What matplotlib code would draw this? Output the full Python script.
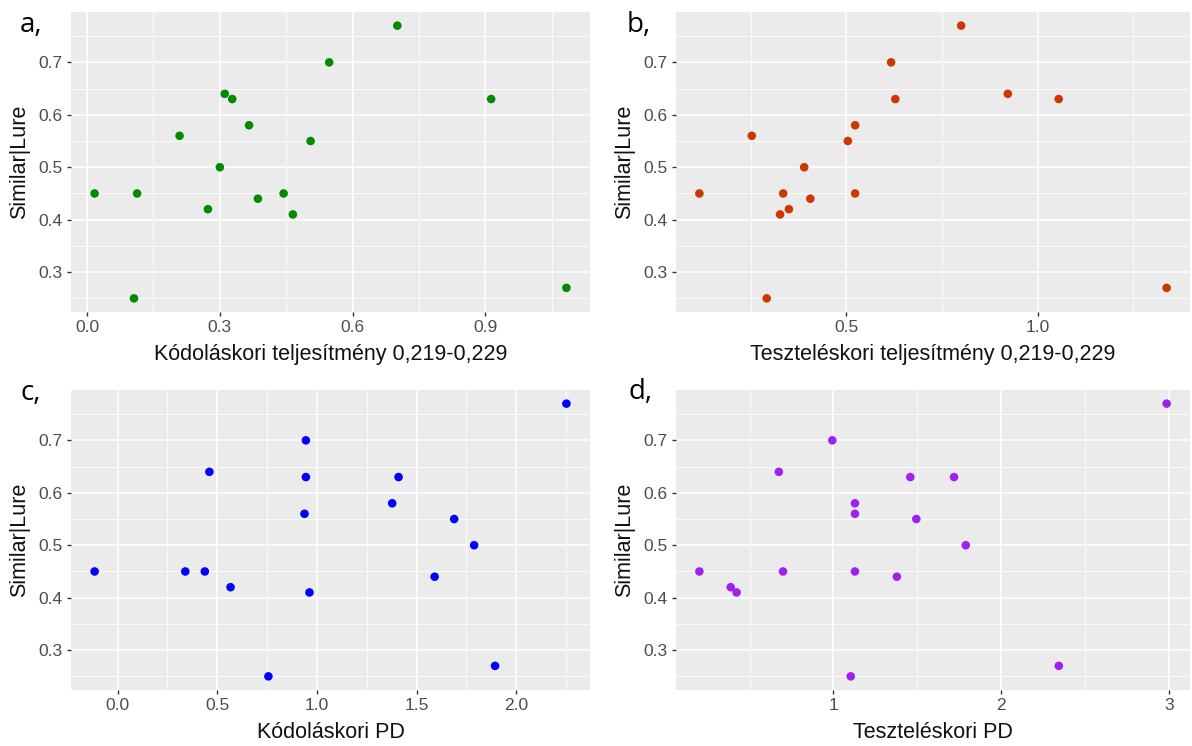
import matplotlib
matplotlib.use("Agg")
import matplotlib.pyplot as plt
import numpy as np

# ---- data ----
a_x = [0.017, 0.113, 0.106, 0.209, 0.273, 0.300, 0.311, 0.328, 0.366, 0.386, 0.444, 0.465, 0.505, 0.547, 0.701, 0.913, 1.083]
a_y = [0.45, 0.45, 0.25, 0.56, 0.42, 0.50, 0.64, 0.63, 0.58, 0.44, 0.45, 0.41, 0.55, 0.70, 0.77, 0.63, 0.27]

b_x = [0.116, 0.253, 0.292, 0.327, 0.335, 0.350, 0.390, 0.406, 0.504, 0.523, 0.523, 0.617, 0.628, 0.800, 0.922, 1.055, 1.337]
b_y = [0.45, 0.56, 0.25, 0.41, 0.45, 0.42, 0.50, 0.44, 0.55, 0.58, 0.45, 0.70, 0.63, 0.77, 0.64, 0.63, 0.27]

c_x = [-0.115, 0.340, 0.438, 0.461, 0.567, 0.757, 0.938, 0.945, 0.945, 0.963, 1.378, 1.410, 1.591, 1.689, 1.789, 1.894, 2.252]
c_y = [0.45, 0.45, 0.45, 0.64, 0.42, 0.25, 0.56, 0.70, 0.63, 0.41, 0.58, 0.63, 0.44, 0.55, 0.50, 0.27, 0.77]

d_x = [0.200, 0.387, 0.422, 0.674, 0.699, 0.993, 1.103, 1.128, 1.128, 1.128, 1.378, 1.458, 1.494, 1.719, 1.789, 2.344, 2.987]
d_y = [0.45, 0.42, 0.41, 0.64, 0.45, 0.70, 0.25, 0.58, 0.56, 0.45, 0.44, 0.63, 0.55, 0.63, 0.50, 0.27, 0.77]

panel_letters = ["a,", "b,", "c,", "d,"]
x_titles = ["Kódoláskori teljesítmény 0,219-0,229",
            "Teszteléskori teljesítmény 0,219-0,229",
            "Kódoláskori PD",
            "Teszteléskori PD"]
y_title = "Similar|Lure"
colors = ["#008B00", "#CD3700", "#0000FF", "#A020F0"]

x_major = [[0.0, 0.3, 0.6, 0.9], [0.5, 1.0], [0.0, 0.5, 1.0, 1.5, 2.0], [1, 2, 3]]
x_minor = [[0.15, 0.45, 0.75, 1.05], [0.25, 0.75, 1.25], [0.25, 0.75, 1.25, 1.75, 2.25], [0.5, 1.5, 2.5]]
x_labels = [["0.0", "0.3", "0.6", "0.9"], ["0.5", "1.0"], ["0.0", "0.5", "1.0", "1.5", "2.0"], ["1", "2", "3"]]
y_major = [0.3, 0.4, 0.5, 0.6, 0.7]
y_labels = ["0.3", "0.4", "0.5", "0.6", "0.7"]
y_minor = [0.25, 0.35, 0.45, 0.55, 0.65, 0.75]

plt.rcParams['font.family'] = ['Liberation Sans', 'DejaVu Sans']

fig = plt.figure(figsize=(11.92, 7.46), dpi=100)

W, H = 1192.0, 746.0
boxes = [(71, 12, 590, 312), (676, 12, 1190, 312), (71, 390, 590, 690), (676, 390, 1190, 690)]
letter_pos = [(20, 32), (627, 32), (20, 400), (629, 399)]
data = [(a_x, a_y), (b_x, b_y), (c_x, c_y), (d_x, d_y)]

for i in range(4):
    l, t, r, b = boxes[i]
    ax = fig.add_axes([l / W, 1 - b / H, (r - l) / W, (b - t) / H])
    xs, ys = data[i]
    xr = max(xs) - min(xs)
    yr = max(ys) - min(ys)
    ax.set_xlim(min(xs) - 0.05 * xr, max(xs) + 0.05 * xr)
    ax.set_ylim(min(ys) - 0.05 * yr, max(ys) + 0.05 * yr)
    ax.set_facecolor("#EBEBEB")
    for s in ax.spines.values():
        s.set_visible(False)
    ax.set_xticks(x_major[i])
    ax.set_xticklabels(x_labels[i])
    ax.set_xticks(x_minor[i], minor=True)
    ax.set_yticks(y_major)
    ax.set_yticklabels(y_labels)
    ax.set_yticks(y_minor, minor=True)
    ax.grid(True, which="major", color="white", linewidth=1.1)
    ax.grid(True, which="minor", color="white", linewidth=0.55)
    ax.set_axisbelow(True)
    ax.tick_params(which="major", length=3, width=1.0, color="#333333",
                   labelsize=12.5, labelcolor="#4D4D4D", pad=3)
    ax.tick_params(which="minor", length=0)
    ax.scatter(xs, ys, s=38, color=colors[i], edgecolors="none", zorder=3)
    ax.set_xlabel(x_titles[i], fontsize=15.5, color="#111111", labelpad=6)
    ax.set_ylabel(y_title, fontsize=15.5, color="#111111", labelpad=6)
    fig.text(letter_pos[i][0] / W, 1 - letter_pos[i][1] / H, panel_letters[i],
             fontsize=20, family=['Open Sans', 'DejaVu Sans'], ha="left", va="baseline", color="black")

fig.savefig("out.png", dpi=100)
